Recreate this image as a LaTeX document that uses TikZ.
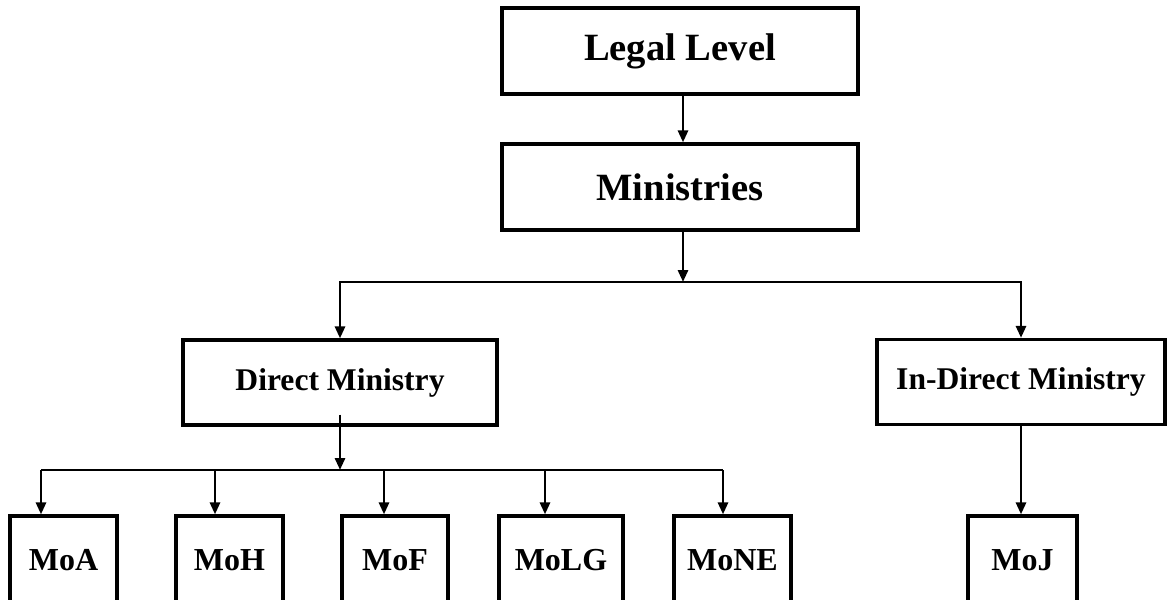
\documentclass[tikz,border=0pt]{standalone}
\usepackage{fontspec}
\setmainfont{Liberation Serif}
\usetikzlibrary{arrows.meta}

\begin{document}
\begin{tikzpicture}[x=0.5pt, y=-0.5pt,
        box/.style={draw, line width=1.6pt, inner sep=0pt, font=\bfseries},
        bigbox/.style={box, minimum width=178pt, minimum height=43pt, font=\bfseries\fontsize{19.3}{22}\selectfont},
        midbox/.style={box, minimum height=42.5pt, font=\bfseries\fontsize{15.8}{18}\selectfont},
        leafbox/.style={box, minimum height=44pt, font=\bfseries\fontsize{16}{18}\selectfont},
        link/.style={line width=1.4pt, -{Triangle[length=6pt, width=5pt]}},
        bus/.style={line width=1.4pt}]
        \useasboundingbox (0,0) rectangle (1168,600);
        \clip (0,0) rectangle (1168,600);
        \node (legal) [bigbox] at (680, 51) {Legal Level};
        \node (min) [bigbox] at (680, 187) {Ministries};
        \node (direct) [midbox, minimum width=157pt] at (340, 382.5) {Direct Ministry};
        \node (indirect) [midbox, minimum width=144pt] at (1021, 382) {In-Direct Ministry};
        \node (moa) [leafbox, minimum width=53.5pt] at (63.5, 560) {MoA};
        \node (moh) [leafbox, minimum width=53.5pt] at (229.5, 560) {MoH};
        \node (mof) [leafbox, minimum width=53pt] at (395, 560) {MoF};
        \node (molg) [leafbox, minimum width=62pt] at (561, 560) {MoLG};
        \node (mone) [leafbox, minimum width=58.5pt] at (732.5, 560) {MoNE};
        \node (moj) [leafbox, minimum width=54.5pt] at (1022.5, 560) {MoJ};
        % split points on the buses
        \coordinate (split) at (683, 282);
        \coordinate (dsplit) at (340, 470);
        \coordinate (b1) at (41, 470);
        \coordinate (b2) at (215, 470);
        \coordinate (b3) at (384, 470);
        \coordinate (b4) at (545, 470);
        \coordinate (b5) at (723, 470);
        \draw [link] (legal.south -| split) -- (min.north -| split);
        \draw [link] (min.south -| split) -- (split);
        \draw [link] (split) -| (direct.north);
        \draw [link] (split) -| (indirect.north);
        \draw [link] ([yshift=6pt]direct.south) -- (dsplit);
        \draw [bus] (b1) -- (b5);
        \draw [link] (b1) -- (b1 |- moa.north);
        \draw [link] (b2) -- (b2 |- moh.north);
        \draw [link] (b3) -- (b3 |- mof.north);
        \draw [link] (b4) -- (b4 |- molg.north);
        \draw [link] (b5) -- (b5 |- mone.north);
        \draw [link] (indirect.south) -- (indirect.south |- moj.north);
\end{tikzpicture}
\end{document}
